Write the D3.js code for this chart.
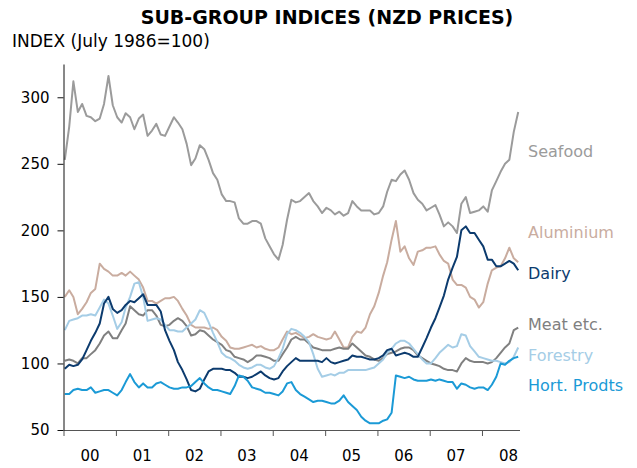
<!DOCTYPE html>
<html>
<head>
<meta charset="utf-8">
<script src="https://cdn.jsdelivr.net/npm/d3@7"></script>
<style>
  body { margin: 0; background: #fff; }
  text { font-family: "DejaVu Sans", Verdana, sans-serif; }
</style>
</head>
<body>
<div class="chart"></div>
<script>
// monthly index values, Jan 2000 .. Sep 2008 (105 months)
var seafood = [253,278,312,289,295,286,285,282,284,295,
               316,294,285,281,288,285,276,284,287,271,
               275,280,272,271,278,285,281,276,265,249,
               254,264,261,253,243,238,227,222,222,221,
               209,205,205,207,207,205,194,188,182,178,
               189,208,223,221,222,225,228,222,218,213,
               217,215,212,214,211,213,222,218,215,215,
               215,212,213,218,229,238,237,242,245,238,
               228,223,220,215,217,219,212,203,206,203,
               198,220,225,213,214,215,218,214,230,237,
               244,250,253,274,289];
var aluminium = [150,155,150,137,141,146,153,156,175,171,
                 169,166,166,168,166,169,166,163,157,147,
                 147,145,147,149,149,150,147,141,136,129,
                 127,127,127,126,127,125,120,117,112,111,
                 111,112,113,114,112,113,111,110,110,112,
                 118,124,122,123,121,119,120,122,120,119,
                 118,119,124,118,112,112,120,124,123,127,
                 137,143,153,166,176,193,207,184,188,179,
                 174,184,185,187,187,188,182,177,175,163,
                 159,159,157,150,148,142,146,160,170,172,
                 173,179,187,179,176];
var dairy = [96,99,98,99,103,110,117,123,130,145,
             150,141,138,140,144,147,146,149,152,144,
             144,144,139,125,117,110,101,95,88,80,
             79,81,88,94,96,96,96,95,95,93,
             90,90,89,90,92,94,91,89,88,89,
             94,98,101,104,102,102,102,102,102,101,
             104,101,100,101,102,103,106,105,105,104,
             103,103,104,106,110,111,106,107,108,107,
             105,105,112,119,127,134,142,151,163,172,
             180,200,203,198,198,193,188,178,178,173,
             173,175,177,175,170];
var meat = [102,103,102,100,104,104,107,110,115,121,
            124,119,119,125,130,143,140,137,136,140,
            140,136,129,128,129,132,134,132,128,121,
            122,125,124,121,118,116,114,110,109,105,
            104,103,101,103,106,106,105,104,102,102,
            107,112,118,120,118,118,115,112,111,110,
            110,110,111,112,111,111,115,112,109,106,
            105,103,102,104,107,108,109,111,112,112,
            110,106,104,102,100,99,98,96,95,95,
            94,100,104,102,101,101,101,100,101,104,
            108,112,115,125,127];
var forestry = [125,132,133,134,136,136,137,136,142,148,
                145,136,126,131,142,150,160,161,150,132,
                133,134,133,129,125,125,124,124,127,130,
                133,140,138,131,123,116,108,105,104,102,
                99,97,96,97,99,99,97,96,98,104,
                111,122,126,125,123,120,116,107,96,90,
                91,92,91,93,93,95,95,95,95,95,
                96,97,100,103,108,111,115,117,117,115,
                111,107,103,100,100,104,108,111,114,112,
                113,122,121,113,109,105,104,103,102,102,
                101,100,101,105,112];
var hort = [77,77,80,81,80,80,82,78,79,80,
            80,78,76,80,86,92,86,82,85,82,
            82,85,86,84,82,81,81,82,82,83,
            86,89,85,82,80,80,79,78,77,83,
            91,90,87,82,81,80,78,78,77,76,
            79,85,86,80,77,75,73,71,72,72,
            71,70,70,72,76,71,68,65,60,57,
            55,55,55,57,58,63,91,90,89,90,
            88,87,87,87,88,87,88,87,86,86,
            81,85,84,82,81,82,82,80,84,90,
            100,99,102,104,105];

// drawing order: later series sit on top
var seriesNames = ["Seafood", "Aluminium", "Meat etc.", "Forestry", "Dairy", "Hort. Prodts"];
var seriesValues = [seafood, aluminium, meat, forestry, dairy, hort];
var seriesColors = ["#9b9b9b", "#c9ac9f", "#808080", "#a5cde6", "#0c3b6e", "#1b9ad6"];
var labelValues = [260, 199, 130, 106, 168, 84]; // where each end label sits, in index units
var yearLabels = ["00", "01", "02", "03", "04", "05", "06", "07", "08"];
var yTicks = [50, 100, 150, 200, 250, 300];

var width = 637, height = 468;
var margin = {top: 64, right: 117.5, bottom: 38, left: 63.5};

var svg = d3.select('.chart')
    .append('svg')
    .attr('width', width)
    .attr('height', height);

var months = d3.range(seafood.length).map(i => new Date(2000, i, 10));

var x = d3.scaleTime()
    .domain([new Date(2000, 0, 1), new Date(2008, 8, 19)])
    .range([margin.left, width - margin.right]);

var y = d3.scaleLinear()
    .domain([50, 325])
    .range([height - margin.bottom, margin.top]);

// title
svg.append('text')
    .attr('x', 327)
    .attr('y', 24)
    .attr('text-anchor', 'middle')
    .attr('font-size', '19px')
    .attr('font-weight', 'bold')
    .attr('fill', '#000')
    .text('SUB-GROUP INDICES (NZD PRICES)');

svg.append('text')
    .attr('x', 12)
    .attr('y', 46.5)
    .attr('font-size', '17px')
    .attr('fill', '#000')
    .text('INDEX (July 1986=100)');

// lines
var line = d3.line()
    .x((d, i) => x(months[i]))
    .y(d => y(d));

svg.selectAll('.series')
    .data(seriesValues)
    .enter()
    .append('path')
    .attr('class', 'series')
    .attr('d', d => line(d))
    .attr('fill', 'none')
    .attr('stroke', (d, i) => seriesColors[i])
    .attr('stroke-width', 2)
    .attr('stroke-linejoin', 'round');

// series labels
svg.selectAll('.lbl')
    .data(seriesNames)
    .enter()
    .append('text')
    .attr('class', 'lbl')
    .attr('x', 528)
    .attr('y', (d, i) => y(labelValues[i]) + 6)
    .attr('font-size', '16px')
    .attr('fill', (d, i) => seriesColors[i])
    .text(d => d);

// x axis: year ticks and labels between them
var xAxis = svg.append('g')
    .attr('transform', `translate(0, ${height - margin.bottom})`)
    .call(d3.axisBottom(x)
        .tickValues(yearLabels.map((d, i) => new Date(2000 + i, 0, 1)))
        .tickSize(6)
        .tickSizeOuter(0)
        .tickFormat(''));
xAxis.select('.domain').attr('stroke', '#555');
xAxis.selectAll('.tick line').attr('stroke', '#555');

svg.append('g')
    .attr('transform', `translate(0, ${height - margin.bottom})`)
    .call(d3.axisBottom(x)
        .tickValues(yearLabels.map((d, i) => new Date(2000 + i, 6, 1)))
        .tickSize(0)
        .tickPadding(20)
        .tickFormat((d, i) => yearLabels[i]))
    .call(g => g.select('.domain').remove())
    .selectAll('text')
    .attr('font-size', '15px')
    .attr('font-family', '"DejaVu Sans", Verdana, sans-serif')
    .attr('fill', '#000');

// y axis
var yAxis = svg.append('g')
    .attr('transform', `translate(${margin.left}, 0)`)
    .call(d3.axisLeft(y)
        .tickValues(yTicks)
        .tickSize(6)
        .tickSizeOuter(0)
        .tickPadding(8));
yAxis.select('.domain').attr('stroke', '#111');
yAxis.selectAll('.tick line').attr('stroke', '#111');
yAxis.selectAll('text')
    .attr('font-size', '15px')
    .attr('font-family', '"DejaVu Sans", Verdana, sans-serif')
    .attr('fill', '#000');
</script>
</body>
</html>
